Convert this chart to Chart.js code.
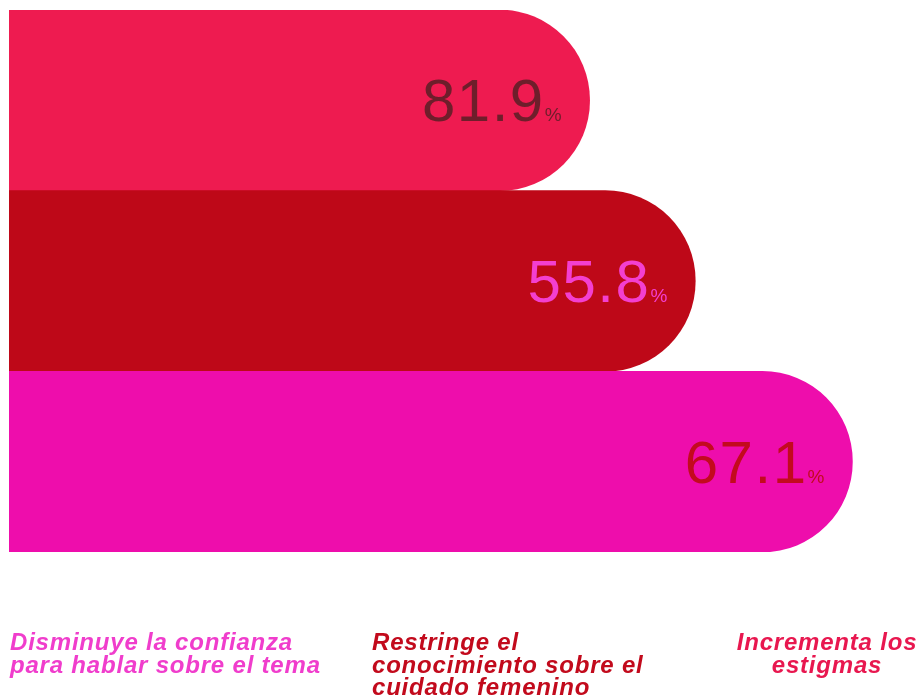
<!DOCTYPE html>
<html>
<head>
<meta charset="utf-8">
<script src="https://cdn.jsdelivr.net/npm/chart.js@4.4.1/dist/chart.umd.min.js"></script>
<style>
  html, body { margin: 0; padding: 0; background: #ffffff; }
  #wrap { width: 921px; height: 696px; position: relative; }
</style>
</head>
<body>
<div id="wrap"><canvas id="chart"></canvas></div>
<script>
// Datos
const categories = [
    'Disminuye la confianza para hablar sobre el tema',
    'Restringe el conocimiento sobre el cuidado femenino',
    'Incrementa los estigmas'
];
const percentages = [81.9, 55.8, 67.1];
// longitud dibujada de cada barra (no proporcional al valor), en % del ancho
const barLength = [64.3, 76.0, 93.4];

const barColors = ['#ee1b50', '#be0818', '#ee0dac'];
const valueColors = ['#6e1e2b', '#f33fd0', '#c30a1e'];

// textos de la parte inferior, con sus líneas
const captionLines = [
    ['Disminuye la confianza', 'para hablar sobre el tema'],
    ['Restringe el', 'conocimiento sobre el', 'cuidado femenino'],
    ['Incrementa los', 'estigmas']
];
const captionColors = ['#f03dcc', '#c20a1c', '#e8174f'];

const valueLabels = {
    id: 'valueLabels',
    afterDatasetsDraw(chart) {
        const ctx = chart.ctx;
        const meta = chart.getDatasetMeta(0);
        ctx.save();
        meta.data.forEach((bar, i) => {
            const right = bar.x - 28;
            ctx.fillStyle = valueColors[i];
            ctx.textAlign = 'right';
            ctx.textBaseline = 'alphabetic';
            ctx.font = '19px "Liberation Sans", Arial, sans-serif';
            ctx.letterSpacing = '0px';
            const pctW = ctx.measureText('%').width;
            const baseline = bar.y + 21;
            ctx.fillText('%', right, baseline);
            ctx.font = '60px "Liberation Sans", Arial, sans-serif';
            ctx.letterSpacing = '1.5px';
            ctx.fillText(percentages[i].toFixed(1), right - pctW, baseline);
        });
        ctx.restore();
    }
};

const captions = {
    id: 'captions',
    afterDraw(chart) {
        const ctx = chart.ctx;
        ctx.save();
        ctx.font = 'italic bold 24px "Liberation Sans", Arial, sans-serif';
        ctx.letterSpacing = '0.8px';
        ctx.textBaseline = 'alphabetic';
        const anchors = [
            { x: 10, align: 'left' },
            { x: 372, align: 'left' },
            { x: 827, align: 'center' }
        ];
        captionLines.forEach((lines, i) => {
            ctx.fillStyle = captionColors[i];
            ctx.textAlign = anchors[i].align;
            lines.forEach((line, j) => {
                ctx.fillText(line, anchors[i].x, 650 + j * 22.5);
            });
        });
        ctx.restore();
    }
};

new Chart(document.getElementById('chart'), {
    type: 'bar',
    data: {
        labels: categories,
        datasets: [{
            data: barLength,
            backgroundColor: barColors,
            borderWidth: 0,
            borderSkipped: 'start',
            borderRadius: { topLeft: 0, bottomLeft: 0, topRight: 200, bottomRight: 200 },
            barPercentage: 1,
            categoryPercentage: 1
        }]
    },
    options: {
        indexAxis: 'y',
        responsive: true,
        maintainAspectRatio: false,
        animation: false,
        layout: { padding: { left: 9, right: 9, top: 10, bottom: 144 } },
        scales: {
            x: { display: false, min: 0, max: 100 },
            y: { display: false }
        },
        plugins: {
            legend: { display: false },
            tooltip: { enabled: false }
        }
    },
    plugins: [valueLabels, captions]
});
</script>
</body>
</html>
